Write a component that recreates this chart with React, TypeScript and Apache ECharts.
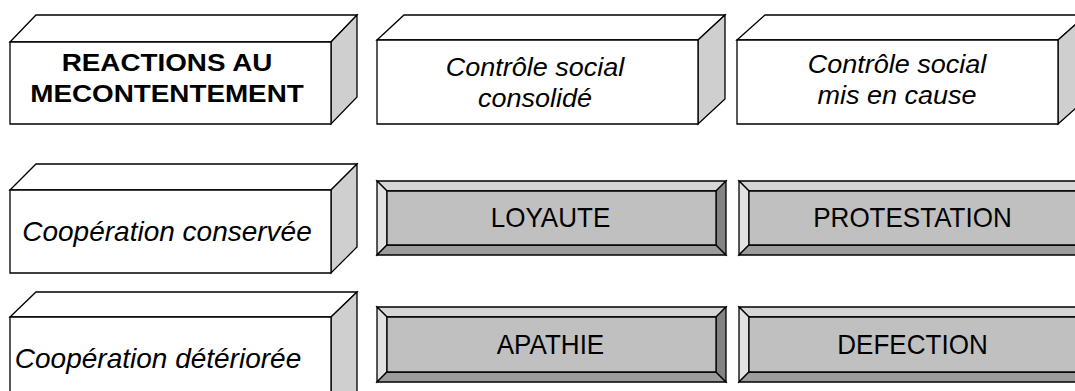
import React, { useEffect, useRef } from "react";
import * as echarts from "echarts";

// ---- Content (texts) ----
const headerLabels = ["REACTIONS AU\nMECONTENTEMENT", "Contrôle social\nconsolidé", "Contrôle social\nmis en cause"];
const rowLabels = ["Coopération conservée", "Coopération détériorée"];
const cellLabels = [
  ["LOYAUTE", "PROTESTATION"],
  ["APATHIE", "DEFECTION"],
];

// ---- Layout ----
const FONT = "'Liberation Sans', Arial, Helvetica, sans-serif";
const LW = 1.3;
// 3D header / row boxes: front rect + depth
const headerBoxes = [
  { x: 10, y: 42, w: 321, h: 82, dx: 26, dy: 27 },
  { x: 377, y: 40, w: 321, h: 84, dx: 27, dy: 25 },
  { x: 737, y: 40, w: 321, h: 84, dx: 28, dy: 25 },
];
const rowBoxes = [
  { x: 10, y: 190, w: 321, h: 83, dx: 26, dy: 26 },
  { x: 10, y: 317, w: 321, h: 110, dx: 26, dy: 25 },
];
const headerText = [
  { cx: 167, cy: 78, size: 23, scaleX: 1.21, weight: "bold", style: "normal", lh: 31 },
  { cx: 535, cy: 83, size: 25.5, scaleX: 1.06, weight: "normal", style: "italic", lh: 31 },
  { cx: 897, cy: 80, size: 25.5, scaleX: 1.06, weight: "normal", style: "italic", lh: 31 },
];
const rowText = [
  { cx: 167, cy: 231 },
  { cx: 158, cy: 358 },
];
const colX = [377, 739];
const cellW = 349;
const rowY = [181, 307];
const cellH = [74, 75];
const BEV = 10;

function box3d(b: any) {
  const { x, y, w, h, dx, dy } = b;
  const st = { stroke: "#000", lineWidth: LW, lineJoin: "miter" };
  return [
    {
      type: "polygon",
      shape: { points: [[x, y], [x + dx, y - dy], [x + w + dx, y - dy], [x + w, y]] },
      style: { ...st, fill: "#ffffff" },
    },
    {
      type: "polygon",
      shape: { points: [[x + w, y], [x + w + dx, y - dy], [x + w + dx, y + h - dy], [x + w, y + h]] },
      style: { ...st, fill: "#cfcfcf" },
    },
    {
      type: "rect",
      shape: { x, y, width: w, height: h },
      style: { ...st, fill: "#ffffff" },
    },
  ];
}

function bevelBox(x: number, y: number, w: number, h: number) {
  const st = { stroke: "#000", lineWidth: LW, lineJoin: "miter" };
  const ix = x + BEV, iy = y + BEV, iw = w - 2 * BEV, ih = h - 2 * BEV;
  return [
    { type: "polygon", shape: { points: [[x, y], [x + w, y], [ix + iw, iy], [ix, iy]] }, style: { ...st, fill: "#d6d6d6" } },
    { type: "polygon", shape: { points: [[x, y], [ix, iy], [ix, iy + ih], [x, y + h]] }, style: { ...st, fill: "#e2e2e2" } },
    { type: "polygon", shape: { points: [[x, y + h], [ix, iy + ih], [ix + iw, iy + ih], [x + w, y + h]] }, style: { ...st, fill: "#9c9c9c" } },
    { type: "polygon", shape: { points: [[x + w, y], [x + w, y + h], [ix + iw, iy + ih], [ix + iw, iy]] }, style: { ...st, fill: "#838383" } },
    { type: "rect", shape: { x: ix, y: iy, width: iw, height: ih }, style: { ...st, fill: "#c0c0c0" } },
  ];
}

function label(text: string, cx: number, cy: number, size: number, scaleX: number, weight: string, fstyle: string, lh: number) {
  return {
    type: "text",
    x: cx,
    y: cy,
    scaleX,
    style: {
      text,
      fill: "#000",
      fontSize: size,
      fontFamily: FONT,
      fontWeight: weight,
      fontStyle: fstyle,
      lineHeight: lh,
      align: "center",
      verticalAlign: "middle",
      textAlign: "center",
      textVerticalAlign: "middle",
    },
  };
}

export default function App() {
  const ref = useRef<HTMLDivElement>(null);
  useEffect(() => {
    if (!ref.current) return;
    const chart = echarts.init(ref.current, null, { renderer: "svg" });
    const elements: any[] = [];
    headerBoxes.forEach((b, i) => {
      elements.push(...box3d(b));
      const t = headerText[i];
      elements.push(label(headerLabels[i], t.cx, t.cy, t.size, t.scaleX, t.weight, t.style, t.lh));
    });
    rowBoxes.forEach((b, i) => {
      elements.push(...box3d(b));
      const t = rowText[i];
      elements.push(label(rowLabels[i], t.cx, t.cy, 28, 1.0, "normal", "italic", 32));
    });
    cellLabels.forEach((row, r) => {
      row.forEach((txt, c) => {
        const x = colX[c], y = rowY[r], h = cellH[r];
        elements.push(...bevelBox(x, y, cellW, h));
        elements.push(label(txt, x + cellW / 2 - 1, y + h / 2, 28, 0.93, "normal", "normal", 32));
      });
    });
    chart.setOption({
      animation: false,
      backgroundColor: "#ffffff",
      graphic: { elements },
    });
    return () => chart.dispose();
  }, []);
  return (
    <div
      ref={ref}
      style={{ position: "fixed", left: 0, top: 0, width: 1075, height: 391, background: "#fff" }}
    />
  );
}
